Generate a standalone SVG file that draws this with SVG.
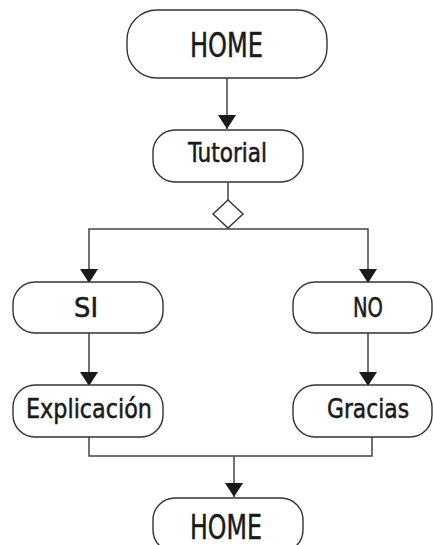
<svg xmlns="http://www.w3.org/2000/svg" width="433" height="545" viewBox="0 0 433 545">
  <style>
    .box { fill: #ffffff; stroke: #333333; stroke-width: 1.4; }
    .lbl { font-family: "DejaVu Sans Condensed", "DejaVu Sans", "Liberation Sans", sans-serif; fill: #1a1a1a; stroke: #1a1a1a; stroke-width: 0.5; text-anchor: start; }
    .big { font-size: 34px; }
    .mid { font-size: 26px; }
    .wire { fill: none; stroke: #444444; stroke-width: 1.5; }
    .arrow { marker-end: url(#tri); }
  </style>
  <defs>
    <marker id="tri" markerUnits="userSpaceOnUse" markerWidth="14" markerHeight="18" refX="14" refY="9" orient="auto" viewBox="0 0 14 18">
      <path d="M0,0 L14,9 L0,18 z" fill="#1a1a1a"/>
    </marker>
  </defs>
  <rect width="433" height="545" fill="#ffffff"/>

  <!-- connectors -->
  <g id="connectors">
    <path class="wire arrow" d="M227,78 V129"/>
    <path class="wire" d="M228,182 V200"/>
    <path class="wire arrow" d="M228,229 H89 V283"/>
    <path class="wire arrow" d="M228,229 H368 V283"/>
    <path class="wire arrow" d="M89,333 V386"/>
    <path class="wire arrow" d="M368,333 V386"/>
    <path class="wire" d="M89,437 V456 H372 V437"/>
    <path class="wire arrow" d="M234,456 V497"/>
  </g>

  <!-- nodes -->
  <g id="home-start">
    <rect class="box" x="127" y="10" width="200" height="68" rx="30" ry="30"/>
    <text class="lbl big" x="190" y="57" textLength="73" lengthAdjust="spacingAndGlyphs">HOME</text>
  </g>
  <g id="tutorial">
    <rect class="box" x="153" y="130" width="150" height="52" rx="22" ry="22"/>
    <text class="lbl mid" x="188" y="162" textLength="79" lengthAdjust="spacingAndGlyphs">Tutorial</text>
  </g>
  <g id="decision">
    <polygon class="box" points="228,200 243,214 228,228 213,214"/>
  </g>
  <g id="si">
    <rect class="box" x="13" y="282" width="150" height="51" rx="22" ry="22"/>
    <text class="lbl mid" x="74" y="317" textLength="24" lengthAdjust="spacingAndGlyphs">SI</text>
  </g>
  <g id="no">
    <rect class="box" x="293" y="282" width="139" height="51" rx="22" ry="22"/>
    <text class="lbl mid" x="353" y="317" textLength="30" lengthAdjust="spacingAndGlyphs">NO</text>
  </g>
  <g id="explicacion">
    <rect class="box" x="13" y="385" width="150" height="52" rx="22" ry="22"/>
    <text class="lbl mid" x="26" y="418" textLength="126" lengthAdjust="spacingAndGlyphs">Explicación</text>
  </g>
  <g id="gracias">
    <rect class="box" x="293" y="385" width="139" height="52" rx="22" ry="22"/>
    <text class="lbl mid" x="327" y="418" textLength="82" lengthAdjust="spacingAndGlyphs">Gracias</text>
  </g>
  <g id="home-end">
    <rect class="box" x="153" y="498" width="150" height="54" rx="22" ry="22"/>
    <text class="lbl big" x="190" y="539" textLength="72" lengthAdjust="spacingAndGlyphs">HOME</text>
  </g>
</svg>
